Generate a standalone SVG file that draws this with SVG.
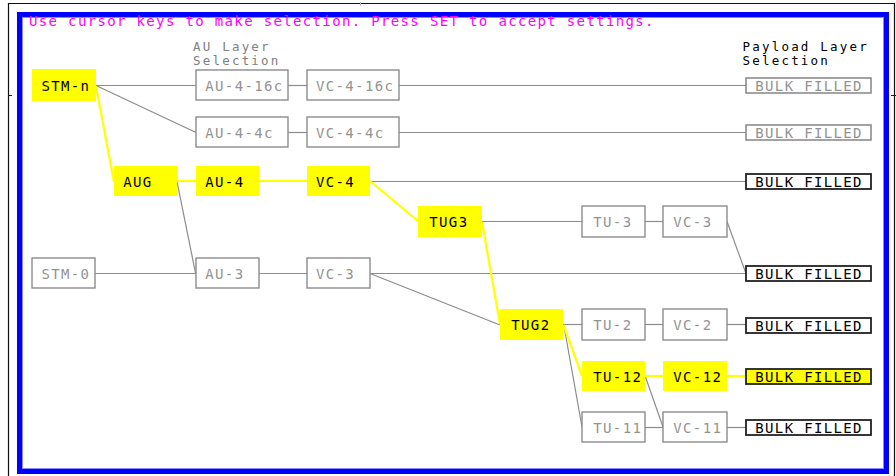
<svg xmlns="http://www.w3.org/2000/svg" width="896" height="476" viewBox="0 0 896 476">
<style>
text{font-family:"DejaVu Sans Mono","Liberation Mono",monospace;font-size:14px;letter-spacing:1.35px}
.hdr{fill:#ff00ff}
.sub{font-size:12.5px;letter-spacing:2.2px}
.lbl{fill:#808080}
.lblk{fill:#000}
.box{fill:#fff;stroke:#8c8c8c;stroke-width:1.4}
.ybox{fill:#ffff00;stroke:none}
.bulkg{fill:#fff;stroke:#8c8c8c;stroke-width:1.6}
.bulkb{fill:#fff;stroke:#222;stroke-width:1.8}
.bulky{fill:#ffff00;stroke:#222;stroke-width:1.8}
.tg{fill:#939393}
.tb{fill:#000}
.gl{stroke:#8c8c8c;stroke-width:1.2;fill:none}
.yl{stroke:#ffff00;stroke-width:2.2;fill:none}
</style>
<rect x="0" y="0" width="896" height="476" fill="#fff"/>
<g id="frame">
<path d="M8.5 476V3.5H894.5V476" fill="none" stroke="#111" stroke-width="1.2"/>
<line x1="360.5" y1="2" x2="360.5" y2="6" stroke="#bbb" stroke-width="1"/>
<rect x="19.5" y="14.5" width="867" height="457" fill="none" stroke="#0000ff" stroke-width="5"/>
<rect x="22.5" y="17.5" width="861" height="451" fill="none" stroke="#8a8aff" stroke-width="1"/>
<line x1="8" y1="95.5" x2="12" y2="95.5" stroke="#0000ff" stroke-width="1"/>
<line x1="891" y1="95.5" x2="896" y2="95.5" stroke="#0000ff" stroke-width="1"/>
</g>
<g id="headers">
<text class="hdr" x="29" y="26">Use cursor keys to make selection. Press SET to accept settings.</text>
<text class="lbl sub" x="193" y="50.5">AU Layer</text>
<text class="lbl sub" x="193" y="65.3">Selection</text>
<text class="lblk sub" x="742.5" y="50.5">Payload Layer</text>
<text class="lblk sub" x="742.5" y="65.3">Selection</text>
</g>
<g id="connectors">
<line class="gl" x1="96" y1="85.5" x2="196" y2="85.5"/>
<line class="gl" x1="288" y1="85.5" x2="307" y2="85.5"/>
<line class="gl" x1="399" y1="85.5" x2="746" y2="85.5"/>
<line class="gl" x1="96" y1="85.5" x2="196" y2="132.5"/>
<line class="gl" x1="288" y1="132.5" x2="307" y2="132.5"/>
<line class="gl" x1="399" y1="132.5" x2="746" y2="132.5"/>
<line class="gl" x1="370" y1="181.5" x2="746" y2="181.5"/>
<line class="gl" x1="177" y1="181.5" x2="195.5" y2="273"/>
<line class="gl" x1="482" y1="221.5" x2="582" y2="221.5"/>
<line class="gl" x1="645" y1="221.5" x2="663" y2="221.5"/>
<line class="gl" x1="727" y1="221.5" x2="746" y2="273.5"/>
<line class="gl" x1="95" y1="273.5" x2="196" y2="273.5"/>
<line class="gl" x1="259" y1="273.5" x2="307" y2="273.5"/>
<line class="gl" x1="370" y1="273.5" x2="746" y2="273.5"/>
<line class="gl" x1="370" y1="273.5" x2="500" y2="325"/>
<line class="gl" x1="563" y1="324.5" x2="582" y2="324.5"/>
<line class="gl" x1="645" y1="324.5" x2="663" y2="324.5"/>
<line class="gl" x1="727" y1="324.5" x2="746" y2="324.5"/>
<line class="gl" x1="564" y1="326" x2="582" y2="427"/>
<line class="gl" x1="645.5" y1="377" x2="663" y2="427"/>
<line class="gl" x1="645" y1="427.5" x2="663" y2="427.5"/>
<line class="gl" x1="727" y1="427.5" x2="746" y2="427.5"/>
<line class="yl" x1="96" y1="86" x2="114" y2="182"/>
<line class="yl" x1="177" y1="181" x2="196" y2="181"/>
<line class="yl" x1="259" y1="181" x2="307" y2="181"/>
<line class="yl" x1="370" y1="181" x2="418" y2="221"/>
<line class="yl" x1="482" y1="222" x2="500" y2="324"/>
<line class="yl" x1="563.5" y1="325" x2="582" y2="376"/>
<line class="yl" x1="645" y1="376" x2="663" y2="376"/>
<line class="yl" x1="727" y1="376" x2="746" y2="376"/>
</g>
<g id="stm-n"><rect class="ybox" x="32" y="69" width="64" height="32"/><text class="tb" x="41.5" y="90.5">STM-n</text></g>
<g id="au-4-16c"><rect class="box" x="196" y="70" width="92" height="30"/><text class="tg" x="205.3" y="90.5">AU-4-16c</text></g>
<g id="vc-4-16c"><rect class="box" x="307" y="70" width="92" height="30"/><text class="tg" x="316" y="90.5">VC-4-16c</text></g>
<g id="bulk-1"><rect class="bulkg" x="746" y="78" width="125" height="15"/><text class="tg" x="755.3" y="90.5">BULK FILLED</text></g>
<g id="au-4-4c"><rect class="box" x="196" y="117" width="92" height="30"/><text class="tg" x="205.3" y="137.5">AU-4-4c</text></g>
<g id="vc-4-4c"><rect class="box" x="307" y="117" width="92" height="30"/><text class="tg" x="316" y="137.5">VC-4-4c</text></g>
<g id="bulk-2"><rect class="bulkg" x="746" y="125" width="125" height="15"/><text class="tg" x="755.3" y="137.5">BULK FILLED</text></g>
<g id="aug"><rect class="ybox" x="114" y="166" width="63" height="30"/><text class="tb" x="123.3" y="186.5">AUG</text></g>
<g id="au-4"><rect class="ybox" x="196" y="166" width="63" height="30"/><text class="tb" x="205.3" y="186.5">AU-4</text></g>
<g id="vc-4"><rect class="ybox" x="307" y="166" width="63" height="30"/><text class="tb" x="316" y="186.5">VC-4</text></g>
<g id="bulk-3"><rect class="bulkb" x="746" y="174" width="125" height="15"/><text class="tb" x="755.3" y="186.5">BULK FILLED</text></g>
<g id="tug3"><rect class="ybox" x="418" y="206" width="64" height="31"/><text class="tb" x="429.3" y="227">TUG3</text></g>
<g id="tu-3"><rect class="box" x="582" y="206" width="63" height="31"/><text class="tg" x="593.3" y="227">TU-3</text></g>
<g id="vc-3-tu"><rect class="box" x="663" y="206" width="64" height="31"/><text class="tg" x="673.3" y="227">VC-3</text></g>
<g id="stm-0"><rect class="box" x="32" y="258" width="63" height="30"/><text class="tg" x="41.5" y="278.5">STM-0</text></g>
<g id="au-3"><rect class="box" x="196" y="258" width="63" height="30"/><text class="tg" x="205.3" y="278.5">AU-3</text></g>
<g id="vc-3-au"><rect class="box" x="307" y="258" width="63" height="30"/><text class="tg" x="316" y="278.5">VC-3</text></g>
<g id="bulk-4"><rect class="bulkb" x="746" y="266" width="125" height="15"/><text class="tb" x="755.3" y="278.5">BULK FILLED</text></g>
<g id="tug2"><rect class="ybox" x="500" y="309" width="63" height="31"/><text class="tb" x="511.3" y="330">TUG2</text></g>
<g id="tu-2"><rect class="box" x="582" y="309" width="63" height="31"/><text class="tg" x="593.3" y="330">TU-2</text></g>
<g id="vc-2"><rect class="box" x="663" y="309" width="64" height="31"/><text class="tg" x="673.3" y="330">VC-2</text></g>
<g id="bulk-5"><rect class="bulkb" x="746" y="318" width="125" height="15"/><text class="tb" x="755.3" y="330.5">BULK FILLED</text></g>
<g id="tu-12"><rect class="ybox" x="582" y="361" width="63" height="30"/><text class="tb" x="593.3" y="381.5">TU-12</text></g>
<g id="vc-12"><rect class="ybox" x="663" y="361" width="64" height="30"/><text class="tb" x="673.3" y="381.5">VC-12</text></g>
<g id="bulk-6"><rect class="bulky" x="746" y="369" width="125" height="15"/><text class="tb" x="755.3" y="381.5">BULK FILLED</text></g>
<g id="tu-11"><rect class="box" x="582" y="412" width="63" height="30"/><text class="tg" x="593.3" y="432.5">TU-11</text></g>
<g id="vc-11"><rect class="box" x="663" y="412" width="64" height="30"/><text class="tg" x="673.3" y="432.5">VC-11</text></g>
<g id="bulk-7"><rect class="bulkb" x="746" y="420" width="125" height="15"/><text class="tb" x="755.3" y="432.5">BULK FILLED</text></g>
</svg>
